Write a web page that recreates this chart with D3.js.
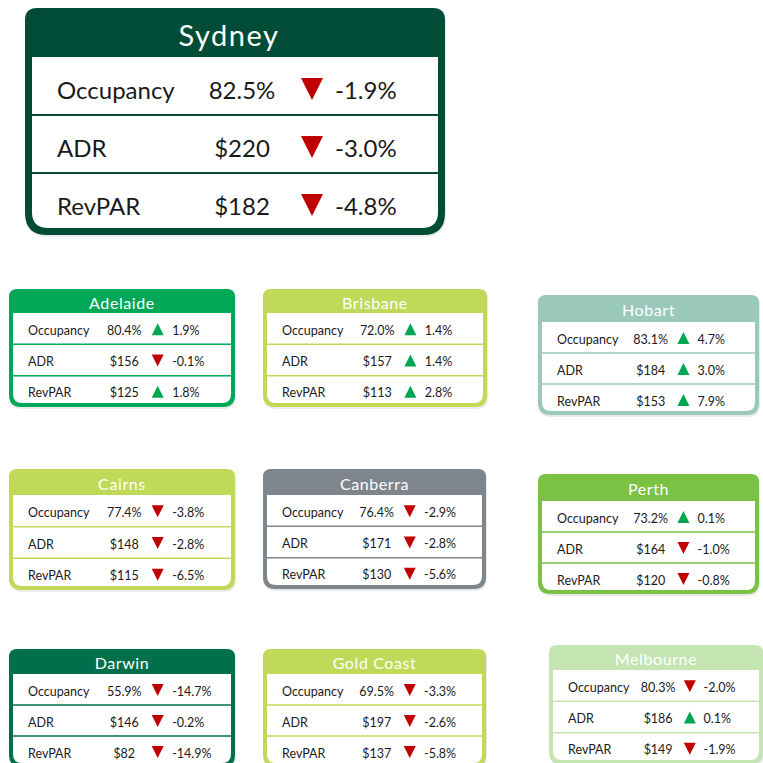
<!DOCTYPE html>
<html>
<head>
<meta charset="utf-8">
<script src="https://cdn.jsdelivr.net/npm/d3@7"></script>
<style>
  body { margin: 0; background: #fff; }
  svg { display: block; font-family: Lato, "Open Sans", sans-serif; }
</style>
</head>
<body>
<div id="container"></div>
<script>
// values
const cities = ["Sydney", "Adelaide", "Brisbane", "Hobart", "Cairns", "Canberra", "Perth", "Darwin", "Gold Coast", "Melbourne"];
const metrics = ["Occupancy", "ADR", "RevPAR"];
const occupancy = [82.5, 80.4, 72.0, 83.1, 77.4, 76.4, 73.2, 55.9, 69.5, 80.3];
const adr = [220, 156, 157, 184, 148, 171, 164, 146, 197, 186];
const revpar = [182, 125, 113, 153, 115, 130, 120, 82, 137, 149];
const occChange = [-1.9, 1.9, 1.4, 4.7, -3.8, -2.9, 0.1, -14.7, -3.3, -2.0];
const adrChange = [-3.0, -0.1, 1.4, 3.0, -2.8, -2.8, -1.0, -0.2, -2.6, 0.1];
const revparChange = [-4.8, 1.8, 2.8, 7.9, -6.5, -5.6, -0.8, -14.9, -5.8, -1.9];

// card colours
const cardColor = {
  "Sydney": "#004c36", "Adelaide": "#00a857", "Brisbane": "#c0d958", "Hobart": "#9ac9bc",
  "Cairns": "#c0d958", "Canberra": "#7e858c", "Perth": "#7bc143", "Darwin": "#00704c",
  "Gold Coast": "#c0d958", "Melbourne": "#c4e5b2"
};

// card boxes: x, y, w, h, header height
const layout = [
  [25, 8, 420, 227, 49],
  [9, 289, 226, 118, 24],
  [263, 289, 224, 118, 24],
  [538, 295, 221, 120, 27],
  [9, 469, 226, 121, 26],
  [263, 469, 223, 120, 26],
  [538, 474, 221, 120, 27],
  [9, 649, 226, 118, 25],
  [263, 649, 223, 118, 25],
  [549, 645, 214, 119, 25]
];

const w = 763, h = 763;
const svg = d3.select("#container").append("svg").attr("width", w).attr("height", h);

// plain hyphen for negatives, like the original
const fmtPct = d3.formatLocale({ decimal: ".", thousands: ",", grouping: [3], currency: ["$", ""], minus: "-" }).format(".1f");

function cardPath(x, y, cw, ch, rTop, rBot) {
  return `M${x},${y + rTop} Q${x},${y} ${x + rTop},${y} L${x + cw - rTop},${y} Q${x + cw},${y} ${x + cw},${y + rTop}
    L${x + cw},${y + ch - rBot} Q${x + cw},${y + ch} ${x + cw - rBot},${y + ch} L${x + rBot},${y + ch} Q${x},${y + ch} ${x},${y + ch - rBot} Z`;
}

cities.forEach((city, i) => {
  const [x, y, cw, ch, head] = layout[i];
  const big = i === 0;
  const border = big ? 7 : 4;
  const color = cardColor[city];
  const g = svg.append("g").attr("transform", `translate(${x},${y})`);

  // subtle shadow + frame
  g.append("path").attr("d", cardPath(1, 2, cw, ch, big ? 12 : 8, big ? 22 : 12))
    .attr("fill", "#000").attr("opacity", 0.08);
  g.append("path").attr("d", cardPath(0, 0, cw, ch, big ? 12 : 8, big ? 22 : 12)).attr("fill", color);

  const innerH = ch - head - border;
  g.append("path").attr("d", cardPath(border, head, cw - 2 * border, innerH, 0, big ? 16 : 9)).attr("fill", "#fff");

  g.append("text")
    .attr("x", big ? cw / 2 - 6 : cw / 2).attr("y", head / 2 + (big ? 2 : 1))
    .attr("text-anchor", "middle").attr("dominant-baseline", "central")
    .attr("fill", "#fff").attr("font-size", big ? 29 : 16)
    .attr("letter-spacing", big ? 1.5 : 0.6)
    .text(city);

  const rowScale = d3.scaleBand().domain(metrics)
    .range([head, big ? head + 174 : ch - border + 4]);

  const rows = [
    { m: "Occupancy", v: fmtPct(occupancy[i]) + "%", c: occChange[i] },
    { m: "ADR", v: "$" + adr[i], c: adrChange[i] },
    { m: "RevPAR", v: "$" + revpar[i], c: revparChange[i] }
  ];

  // separators
  metrics.slice(1).forEach(m => {
    g.append("line")
      .attr("x1", border).attr("x2", cw - border)
      .attr("y1", rowScale(m)).attr("y2", rowScale(m))
      .attr("stroke", color).attr("stroke-width", big ? 2 : 1.5);
  });

  const fs = big ? 24 : 12.5;
  const colLabel = big ? 32 : 19;
  const colValue = big ? 217 : 0.51 * cw;
  const colTri = big ? 287 : 0.658 * cw;
  const colChange = big ? 310 : 0.722 * cw;
  const tri = big ? 11 : 6;
  const shift = big ? 3 : 1.5;

  rows.forEach(r => {
    const cy = rowScale(r.m) + rowScale.bandwidth() / 2 + shift;
    g.append("text").attr("x", colLabel).attr("y", cy).attr("dominant-baseline", "central")
      .attr("font-size", fs).attr("fill", "#1a1a1a").text(r.m);
    g.append("text").attr("x", colValue).attr("y", cy).attr("dominant-baseline", "central")
      .attr("text-anchor", "middle").attr("font-size", fs).attr("fill", "#1a1a1a").text(r.v);
    const up = r.c >= 0;
    const ty = cy - (big ? 0 : 1);
    g.append("path")
      .attr("d", up
        ? `M${colTri - tri},${ty + tri} L${colTri + tri},${ty + tri} L${colTri},${ty - tri} Z`
        : `M${colTri - tri},${ty - tri} L${colTri + tri},${ty - tri} L${colTri},${ty + tri} Z`)
      .attr("fill", up ? "#00a651" : "#c00000");
    g.append("text").attr("x", colChange).attr("y", cy).attr("dominant-baseline", "central")
      .attr("font-size", fs).attr("fill", "#1a1a1a").text(fmtPct(r.c) + "%");
  });
});
</script>
</body>
</html>
